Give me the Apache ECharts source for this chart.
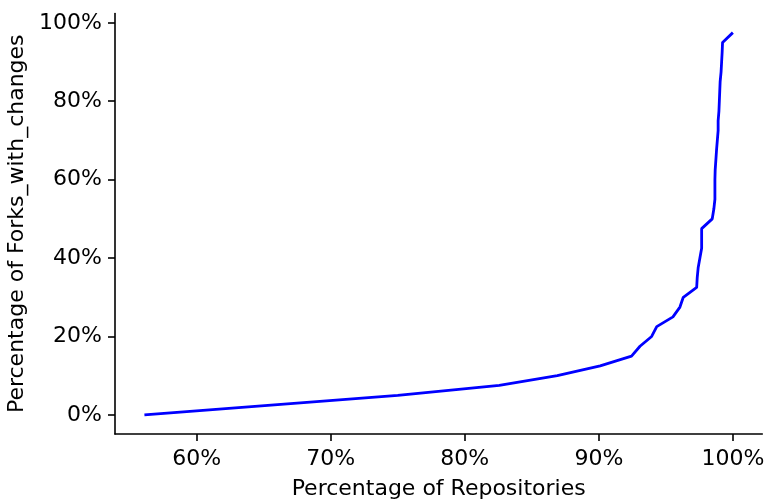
<!DOCTYPE html>
<html>
<head>
<meta charset="utf-8">
<script src="https://cdn.jsdelivr.net/npm/echarts@6/dist/echarts.min.js"></script>
<style>
  html, body { margin: 0; padding: 0; background: #fff; }
  #chart { width: 767px; height: 499px; }
</style>
</head>
<body>
<div id="chart"></div>
<script>
// Cumulative share of forks with changes against share of repositories (in %)
const repoPct = [
  56.1, 65.55, 75.0, 82.57, 86.9, 90.1, 92.44, 93.07, 93.94, 94.32,
  95.53, 96.05, 96.3, 97.3, 97.34, 97.41, 97.54, 97.67, 97.67, 97.67,
  98.46, 98.58, 98.66, 98.66, 98.66, 98.68, 98.73, 98.78, 98.84, 98.9,
  98.9, 98.96, 98.99, 99.02, 99.05, 99.12, 99.16, 99.2, 99.23, 100.0
];
const forkPct = [
  0, 2.5, 5, 7.5, 10, 12.5, 15, 17.5, 20, 22.5,
  25, 27.5, 30, 32.5, 35, 37.5, 40, 42.5, 45, 47.5,
  50, 52.5, 55, 57.5, 60, 62.5, 65, 67.5, 70, 72.5,
  75, 77.5, 80, 82.5, 85, 87.5, 90, 92.5, 95, 97.5
];
const xTicks = [60, 70, 80, 90, 100];
const yTicks = [0, 20, 40, 60, 80, 100];

const font = 'DejaVu Sans';
const fontSize = 22;
const points = repoPct.map((x, i) => [x, forkPct[i]]);

// 5% padding around the data range on both axes
const xSpan = 100 - 56.1;
const ySpan = 97.5;

const chart = echarts.init(document.getElementById('chart'), null, { renderer: 'canvas' });
chart.setOption({
  animation: false,
  backgroundColor: '#ffffff',
  grid: { left: 115, top: 13.5, right: 4.7, bottom: 65, containLabel: false, outerBoundsMode: 'none' },
  xAxis: {
    type: 'value',
    min: 56.1 - 0.05 * xSpan,
    max: 100 + 0.05 * xSpan,
    name: 'Percentage of Repositories',
    nameLocation: 'middle',
    nameGap: 44,
    nameTextStyle: { fontFamily: font, fontSize: fontSize, color: '#000' },
    axisLine: { show: true, onZero: false, lineStyle: { color: '#000', width: 1.6 } },
    axisTick: { show: true, customValues: xTicks, length: 7, lineStyle: { color: '#000', width: 1.6 } },
    axisLabel: { customValues: xTicks, formatter: '{value}%', fontFamily: font, fontSize: fontSize, color: '#000', margin: 14 },
    splitLine: { show: false }
  },
  yAxis: {
    type: 'value',
    min: -0.05 * ySpan,
    max: 97.5 + 0.05 * ySpan,
    name: 'Percentage of Forks_with_changes',
    nameLocation: 'middle',
    nameGap: 86,
    nameTextStyle: { fontFamily: font, fontSize: fontSize, color: '#000' },
    axisLine: { show: true, onZero: false, lineStyle: { color: '#000', width: 1.6 } },
    axisTick: { show: true, customValues: yTicks, length: 7, lineStyle: { color: '#000', width: 1.6 } },
    axisLabel: { customValues: yTicks, formatter: '{value}%', fontFamily: font, fontSize: fontSize, color: '#000', margin: 13 },
    splitLine: { show: false }
  },
  series: [{
    type: 'line',
    data: points,
    showSymbol: false,
    lineStyle: { color: '#0000ff', width: 2.8 },
    z: 3
  }]
});
</script>
</body>
</html>
